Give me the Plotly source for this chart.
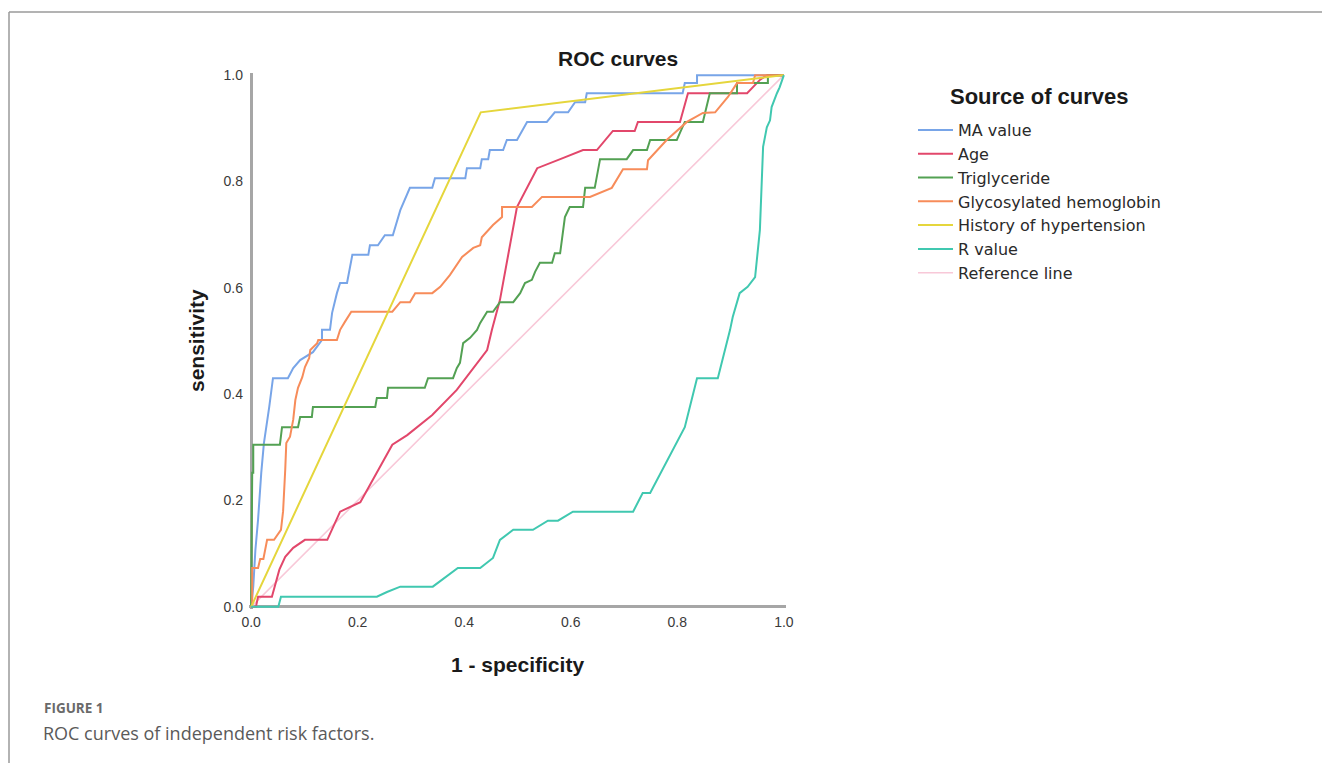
import plotly.graph_objects as go

# ---------------- data ----------------
ma_fpr = [0, 0.004, 0.008, 0.013, 0.019, 0.024, 0.034, 0.041, 0.069, 0.079, 0.092, 0.116, 0.133, 0.133,
          0.148, 0.152, 0.161, 0.167, 0.18, 0.19, 0.22, 0.223, 0.238, 0.251, 0.266, 0.28, 0.298, 0.34,
          0.345, 0.402, 0.405, 0.43, 0.433, 0.445, 0.448, 0.473, 0.48, 0.499, 0.518, 0.555, 0.57, 0.595,
          0.608, 0.627, 0.63, 0.81, 0.814, 0.837, 0.837, 1]
ma_tpr = [0, 0.038, 0.107, 0.164, 0.252, 0.308, 0.376, 0.43, 0.43, 0.449, 0.464, 0.479, 0.502, 0.521,
          0.521, 0.553, 0.59, 0.609, 0.609, 0.662, 0.662, 0.68, 0.68, 0.699, 0.699, 0.746, 0.788, 0.788,
          0.806, 0.806, 0.825, 0.825, 0.842, 0.842, 0.859, 0.859, 0.878, 0.878, 0.912, 0.912, 0.93, 0.93,
          0.949, 0.949, 0.966, 0.966, 0.985, 0.985, 1.0, 1]

age_fpr = [0, 0.009, 0.013, 0.039, 0.053, 0.064, 0.079, 0.101, 0.143, 0.167, 0.205, 0.233, 0.265, 0.293,
           0.34, 0.386, 0.443, 0.452, 0.467, 0.499, 0.537, 0.585, 0.623, 0.649, 0.679, 0.72, 0.726, 0.805,
           0.82, 0.931, 0.955, 0.968, 1]
age_tpr = [0, 0, 0.019, 0.019, 0.07, 0.094, 0.111, 0.126, 0.126, 0.179, 0.197, 0.248, 0.305, 0.323,
           0.361, 0.408, 0.483, 0.521, 0.577, 0.752, 0.825, 0.844, 0.859, 0.859, 0.895, 0.895, 0.912, 0.912,
           0.966, 0.966, 0.991, 1.0, 1]

tg_fpr = [0, 0.002, 0.004, 0.004, 0.054, 0.058, 0.088, 0.092, 0.114, 0.116, 0.233, 0.236, 0.255, 0.257,
          0.326, 0.332, 0.379, 0.386, 0.392, 0.398, 0.411, 0.424, 0.43, 0.443, 0.454, 0.467, 0.492, 0.505,
          0.514, 0.527, 0.533, 0.542, 0.565, 0.57, 0.58, 0.589, 0.598, 0.623, 0.627, 0.645, 0.655, 0.705,
          0.717, 0.743, 0.749, 0.799, 0.814, 0.848, 0.861, 0.912, 0.912, 0.97, 0.97, 1]
tg_tpr = [0, 0.252, 0.252, 0.305, 0.305, 0.338, 0.338, 0.357, 0.357, 0.376, 0.376, 0.393, 0.393, 0.412,
          0.412, 0.43, 0.43, 0.449, 0.459, 0.496, 0.506, 0.521, 0.534, 0.555, 0.555, 0.573, 0.573, 0.59,
          0.609, 0.615, 0.63, 0.647, 0.647, 0.665, 0.665, 0.733, 0.752, 0.752, 0.788, 0.788, 0.842, 0.842,
          0.859, 0.859, 0.878, 0.878, 0.912, 0.912, 0.966, 0.966, 0.985, 0.985, 1.0, 1]

hba1c_fpr = [0, 0.002, 0.002, 0.013, 0.017, 0.023, 0.03, 0.043, 0.056, 0.06, 0.064, 0.066, 0.073, 0.079,
             0.083, 0.088, 0.096, 0.101, 0.109, 0.111, 0.124, 0.126, 0.161, 0.167, 0.176, 0.188, 0.265,
             0.28, 0.298, 0.308, 0.34, 0.355, 0.373, 0.388, 0.396, 0.417, 0.43, 0.433, 0.454, 0.471, 0.471,
             0.527, 0.546, 0.636, 0.677, 0.698, 0.743, 0.745, 0.78, 0.818, 0.848, 0.871, 0.895, 0.912,
             0.942, 0.946, 1]
hba1c_tpr = [0, 0.004, 0.073, 0.073, 0.09, 0.09, 0.126, 0.126, 0.145, 0.18, 0.258, 0.308, 0.32, 0.352,
             0.389, 0.412, 0.432, 0.451, 0.468, 0.483, 0.496, 0.502, 0.502, 0.521, 0.536, 0.555, 0.555,
             0.573, 0.573, 0.59, 0.59, 0.602, 0.624, 0.647, 0.658, 0.675, 0.68, 0.695, 0.718, 0.733, 0.752,
             0.752, 0.771, 0.771, 0.788, 0.823, 0.823, 0.84, 0.878, 0.912, 0.929, 0.93, 0.959, 0.985,
             0.985, 1.0, 1]

htn_fpr = [0, 0.431, 1]
htn_tpr = [0, 0.93, 1]

r_fpr = [0, 0.051, 0.056, 0.236, 0.255, 0.28, 0.341, 0.364, 0.388, 0.43, 0.454, 0.467, 0.492, 0.529,
         0.557, 0.576, 0.604, 0.717, 0.735, 0.749, 0.814, 0.837, 0.876, 0.899, 0.904, 0.917, 0.932, 0.946,
         0.955, 0.961, 0.968, 0.974, 0.977, 0.987, 0.992, 1]
r_tpr = [0, 0, 0.019, 0.019, 0.028, 0.038, 0.038, 0.055, 0.073, 0.073, 0.092, 0.126, 0.145, 0.145,
         0.162, 0.162, 0.179, 0.179, 0.214, 0.214, 0.338, 0.43, 0.43, 0.521, 0.545, 0.59, 0.602, 0.62,
         0.709, 0.865, 0.902, 0.915, 0.94, 0.966, 0.977, 1]

ref_fpr = [0, 1]
ref_tpr = [0, 1]

series_names = ["MA value", "Age", "Triglyceride", "Glycosylated hemoglobin",
                "History of hypertension", "R value", "Reference line"]
series_colors = ["#78A5E8", "#E2476B", "#53A153", "#F78C5A", "#E5D63C", "#40C8B0", "#F8C8D8"]
tick_vals = [0.0, 0.2, 0.4, 0.6, 0.8, 1.0]
tick_text = ["0.0", "0.2", "0.4", "0.6", "0.8", "1.0"]

# ---------------- geometry helpers ----------------
W, H = 1322, 763
ML, MR, MT, MB = 249, 536, 73, 154
PW, PH = W - ML - MR, H - MT - MB


def px_x(p):
    return (p - ML) / PW


def px_y(p):
    return (H - MB - p) / PH


fig = go.Figure()

xs = [ma_fpr, age_fpr, tg_fpr, hba1c_fpr, htn_fpr, r_fpr, ref_fpr]
ys = [ma_tpr, age_tpr, tg_tpr, hba1c_tpr, htn_tpr, r_tpr, ref_tpr]
order = [6, 0, 1, 2, 3, 4, 5]
for i in order:
    fig.add_trace(go.Scatter(
        x=xs[i], y=ys[i], mode="lines", name=series_names[i],
        line=dict(color=series_colors[i], width=1.6 if i == 6 else 2),
        legendrank=i + 1,
    ))

axis_common = dict(
    range=[-0.004, 1.004], tickvals=tick_vals, ticktext=tick_text,
    showgrid=False, showline=False, zeroline=True, zerolinecolor="#A6A6A6", zerolinewidth=2.5,
    ticks="", tickfont=dict(family="Liberation Sans, Arial", size=14, color="#3a3a3a"),
    fixedrange=True,
)
fig.update_xaxes(ticklabelstandoff=3, **axis_common)
fig.update_yaxes(ticklabelstandoff=5, **axis_common)

annotations = [
    dict(text="ROC curves", x=px_x(618), y=px_y(59), xanchor="center", yanchor="middle",
         font=dict(family="Liberation Sans, Arial", size=21, color="#1a1a1a", weight="bold")),
    dict(text="1 - specificity", x=px_x(517), y=px_y(664), xanchor="center", yanchor="middle",
         font=dict(family="Liberation Sans, Arial", size=21, color="#1a1a1a", weight="bold")),
    dict(text="sensitivity", x=px_x(196), y=px_y(341), xanchor="center", yanchor="middle", textangle=-90,
         font=dict(family="Liberation Sans, Arial", size=21, color="#1a1a1a", weight="bold")),
    dict(text="Source of curves", x=px_x(1039), y=px_y(96), xanchor="center", yanchor="middle",
         font=dict(family="Liberation Sans, Arial", size=22, color="#1a1a1a", weight="bold")),
    dict(text="FIGURE 1", x=px_x(42), y=px_y(708), xanchor="left", yanchor="middle",
         font=dict(family="Open Sans", size=13.5, color="#6a6a6a", weight="bold")),
    dict(text="ROC curves of independent risk factors.", x=px_x(41), y=px_y(733), xanchor="left",
         yanchor="middle", font=dict(family="Open Sans", size=18, color="#5a5a5a")),
]
for a in annotations:
    a.update(xref="paper", yref="paper", showarrow=False)

shapes = [
    dict(type="line", xref="paper", yref="paper", x0=px_x(9), x1=px_x(W + 5), y0=px_y(12), y1=px_y(12),
         line=dict(color="#9a9a9a", width=1.5)),
    dict(type="line", xref="paper", yref="paper", x0=px_x(9), x1=px_x(9), y0=px_y(12), y1=px_y(H + 5),
         line=dict(color="#9a9a9a", width=1.5)),
]

fig.update_layout(
    width=W, height=H,
    margin=dict(l=ML, r=MR, t=MT, b=MB, autoexpand=False),
    paper_bgcolor="white", plot_bgcolor="white",
    showlegend=True,
    legend=dict(
        x=px_x(913), y=px_y(113), xanchor="left", yanchor="top",
        font=dict(family="DejaVu Sans", size=16, color="#2a2a2a"),
        bgcolor="rgba(0,0,0,0)", borderwidth=0, itemwidth=35, tracegroupgap=0,
    ),
    annotations=annotations,
    shapes=shapes,
)

fig.write_html("out.html", config={"displayModeBar": False},
               post_script="document.body.style.margin='0px';")
